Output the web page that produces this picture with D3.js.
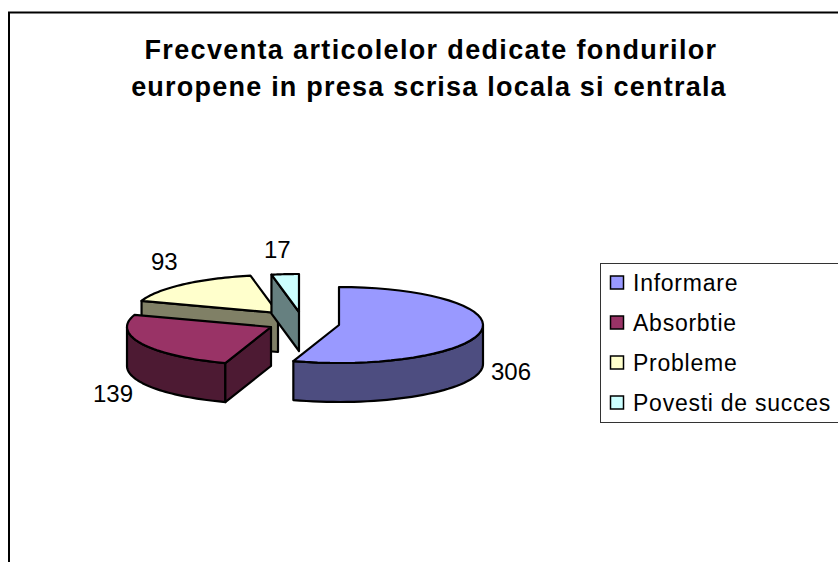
<!DOCTYPE html>
<html><head><meta charset="utf-8">
<script src="https://cdnjs.cloudflare.com/ajax/libs/d3/7.8.5/d3.min.js"></script>
<style>html,body{margin:0;padding:0;background:#fff}svg{display:block}text{font-family:"Liberation Sans",Arial,sans-serif;fill:#000}</style>
</head><body><svg id="c" width="838" height="562"></svg>
<script>
const categories = ["Informare","Absorbtie","Probleme","Povesti de succes"];
const values = [306,139,93,17];
const titleLines = ["Frecventa articolelor dedicate fondurilor","europene in presa scrisa locala si centrala"];
const topColors = ["#9999ff","#993366","#ffffcc","#ccffff"];
const sideColors = ["#4d4d80","#4d1a33","#808066","#668080"];

const svg = d3.select("#c");
const rx = 144, ry = 38, depth = 39;
const apex = [[339,325],[271,327],[278,313],[299,312]];
const labelPos = [[491,380],[93,402],[151,270],[264,258]];
const titleX = [431,429], titleSpacing = [1.35,1.22];

const arcs = d3.pie().sort(null).startAngle(0).endAngle(2*Math.PI)(values);
const sx = d3.scaleLinear().domain([-1,1]).range([-rx,rx]);
const sy = d3.scaleLinear().domain([-1,1]).range([-ry,ry]);
const pt = (i,a,dy=0)=>[apex[i][0]+sx(Math.sin(a)), apex[i][1]-sy(Math.cos(a))+dy];
const line = d3.line();
const stroke = {stroke:"#000","stroke-width":2.2,"stroke-linejoin":"round"};
function poly(points,fill,close=true){
  const p = svg.append("path").attr("d",line(points)+(close?"Z":"")).attr("fill",fill);
  Object.entries(stroke).forEach(([k,v])=>p.attr(k,v));
  return p;
}
function samples(a0,a1){return d3.range(0,41).map(k=>a0+(a1-a0)*k/40);}
function topFace(i){
  const d=arcs[i];
  poly([apex[i],...samples(d.startAngle,d.endAngle).map(a=>pt(i,a))],topColors[i]);
}
function radialSide(i,a){
  poly([apex[i],pt(i,a),pt(i,a,depth),[apex[i][0],apex[i][1]+depth]],sideColors[i]);
}
function rim(i,a0,a1){
  const s=samples(a0,a1);
  poly([...s.map(a=>pt(i,a)),...s.slice().reverse().map(a=>pt(i,a,depth))],sideColors[i]);
}

// frame
svg.append("path").attr("d","M9,562V12.5H838").attr("fill","none").attr("stroke","#000").attr("stroke-width",2);

const title = svg.append("g");
titleLines.forEach((t,i)=>title.append("text").attr("x",titleX[i]).attr("y",59+i*37)
  .attr("text-anchor","middle").attr("font-size",27).attr("font-weight","bold").attr("letter-spacing",titleSpacing[i]).text(t));

// Probleme
radialSide(2,arcs[2].startAngle);
topFace(2);
// Povesti
radialSide(3,arcs[3].startAngle);
topFace(3);
// Absorbtie
rim(1,arcs[1].startAngle,Math.PI*1.5);
radialSide(1,arcs[1].startAngle);
topFace(1);
// Informare
rim(0,Math.PI/2,arcs[0].endAngle);
topFace(0);

values.forEach((v,i)=>svg.append("text").attr("x",labelPos[i][0]).attr("y",labelPos[i][1]).attr("font-size",24).text(v));

// legend
const lg = svg.append("g");
lg.append("rect").attr("x",600.5).attr("y",263.5).attr("width",260).attr("height",159)
  .attr("fill","#fff").attr("stroke","#333").attr("stroke-width",1);
const rowY = d3.scalePoint().domain(categories).range([283,403]);
categories.forEach((c,i)=>{
  lg.append("rect").attr("x",610.5).attr("y",rowY(c)-7).attr("width",13).attr("height",13)
    .attr("fill",topColors[i]).attr("stroke","#000").attr("stroke-width",1.5);
  lg.append("text").attr("x",633).attr("y",rowY(c)+8).attr("font-size",23).attr("letter-spacing",0.75).text(c);
});
</script></body></html>
